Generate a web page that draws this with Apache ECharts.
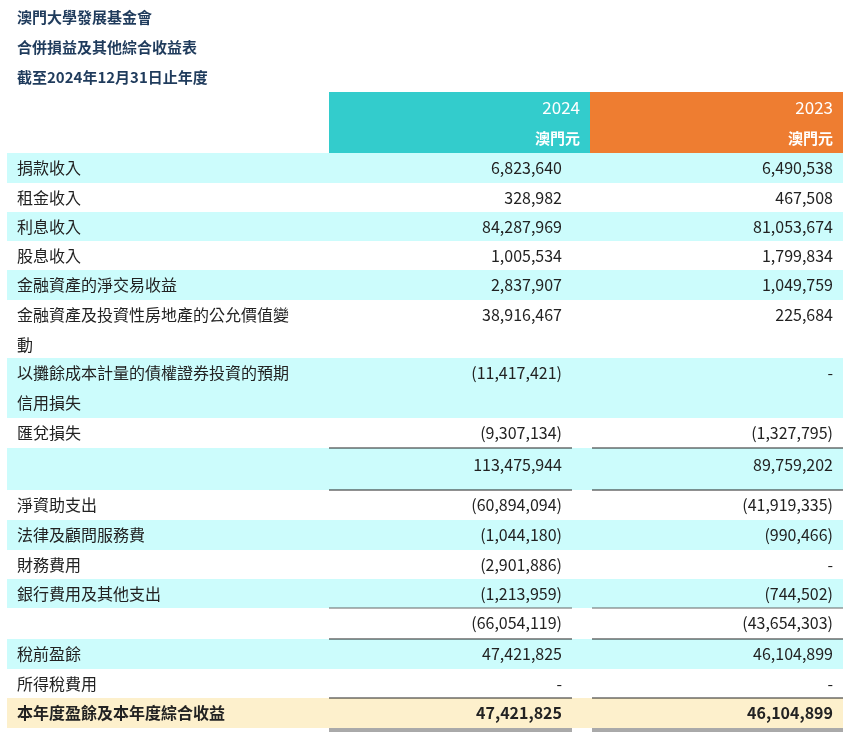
<!DOCTYPE html>
<html><head><meta charset="utf-8">
<script src="https://cdn.jsdelivr.net/npm/echarts@6/dist/echarts.min.js"></script>
<style>html,body{margin:0;background:#fff}#main{width:850px;height:738px}</style>
</head><body><div id="main"></div>
<script>
var titles = ['澳門大學發展基金會', '合併損益及其他綜合收益表', '截至2024年12月31日止年度'];
var years = ['2024', '2023'];
var labels = ['捐款收入', '租金收入', '利息收入', '股息收入', '金融資產的淨交易收益',
  '金融資產及投資性房地產的公允價值變\n動', '以攤餘成本計量的債權證券投資的預期\n信用損失', '匯兌損失', '',
  '淨資助支出', '法律及顧問服務費', '財務費用', '銀行費用及其他支出', '', '稅前盈餘', '所得稅費用',
  '本年度盈餘及本年度綜合收益'];
var values2024 = ['6,823,640', '328,982', '84,287,969', '1,005,534', '2,837,907', '38,916,467',
  '(11,417,421)', '(9,307,134)', '113,475,944', '(60,894,094)', '(1,044,180)', '(2,901,886)',
  '(1,213,959)', '(66,054,119)', '47,421,825', '-', '47,421,825'];
var values2023 = ['6,490,538', '467,508', '81,053,674', '1,799,834', '1,049,759', '225,684', '-',
  '(1,327,795)', '89,759,202', '(41,919,335)', '(990,466)', '-', '(744,502)', '(43,654,303)',
  '46,104,899', '-', '46,104,899'];
var rowHeights = [30, 29, 29, 29, 30, 58, 60, 30, 42, 30, 30, 29, 29, 31, 30, 29, 30];

var font = '"Noto Sans CJK TC", sans-serif';
var g = [];
titles.forEach(function (t, i) {
  g.push({ type: 'text', x: 17, y: 2 + i * 30,
    style: { text: t, font: 'bold 15px ' + font, fill: '#1f3b5c', lineHeight: 30 } });
});
g.push({ type: 'rect', shape: { x: 329, y: 92, width: 261, height: 61 }, style: { fill: '#33cccc' } });
g.push({ type: 'rect', shape: { x: 590, y: 92, width: 253, height: 61 }, style: { fill: '#ee7d31' } });
[580, 833].forEach(function (x, i) {
  g.push({ type: 'text', x: x, y: 93, style: { text: years[i], align: 'right', font: '17px ' + font, fill: '#fff', lineHeight: 30 } });
  g.push({ type: 'text', x: x, y: 123, style: { text: '澳門元', align: 'right', font: 'bold 15px ' + font, fill: '#fff', lineHeight: 30 } });
});
var y = 153;
var lineAbove = { 8: 'k', 9: 'k', 13: 'g', 14: 'k', 16: 'k' };
labels.forEach(function (lab, i) {
  var h = rowHeights[i];
  var last = i === labels.length - 1;
  var bg = last ? '#fdf0cc' : (i % 2 === 0 ? '#ccfcfc' : null);
  if (bg) g.push({ type: 'rect', shape: { x: 7, y: y, width: 836, height: h }, style: { fill: bg } });
  var f = (last ? 'bold ' : '') + '16px ' + font;
  var ty = y + (i === 8 ? 2 : 0);
  if (lab) g.push({ type: 'text', x: 17, y: ty, style: { text: lab, font: f, fill: '#222', lineHeight: 30 } });
  g.push({ type: 'text', x: 562, y: ty, style: { text: values2024[i], align: 'right', font: f, fill: '#222', lineHeight: 30 } });
  g.push({ type: 'text', x: 833, y: ty, style: { text: values2023[i], align: 'right', font: f, fill: '#222', lineHeight: 30 } });
  if (lineAbove[i]) {
    var c = lineAbove[i] === 'k' ? '#222' : '#666';
    g.push({ type: 'line', shape: { x1: 329, y1: y, x2: 572, y2: y }, style: { stroke: c, lineWidth: 1 } });
    g.push({ type: 'line', shape: { x1: 592, y1: y, x2: 843, y2: y }, style: { stroke: c, lineWidth: 1 } });
  }
  y += h;
});
[y + 1, y + 3].forEach(function (yy) {
  g.push({ type: 'line', shape: { x1: 329, y1: yy, x2: 572, y2: yy }, style: { stroke: '#555', lineWidth: 1 } });
  g.push({ type: 'line', shape: { x1: 592, y1: yy, x2: 843, y2: yy }, style: { stroke: '#555', lineWidth: 1 } });
});
var chart = echarts.init(document.getElementById('main'));
chart.setOption({ graphic: g });
</script></body></html>
